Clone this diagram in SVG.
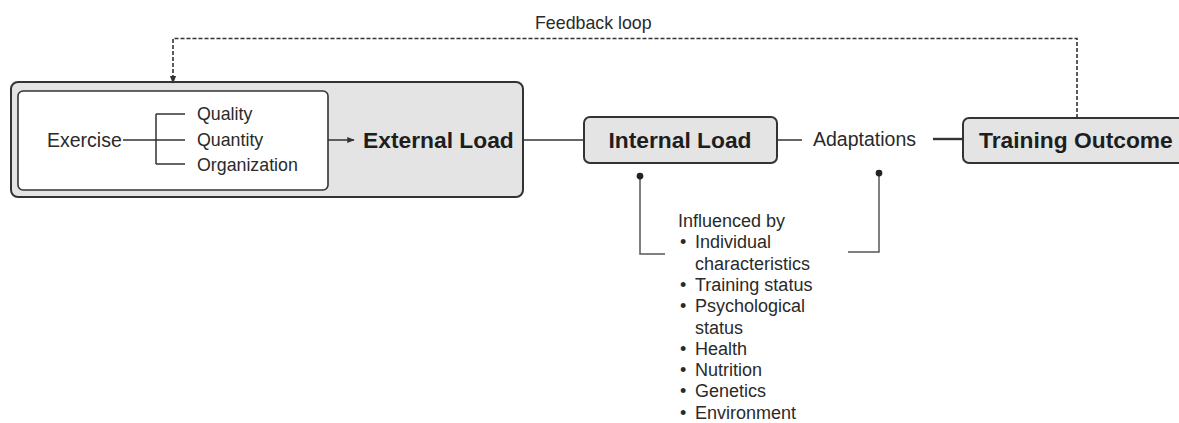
<svg xmlns="http://www.w3.org/2000/svg" width="1179" height="423" viewBox="0 0 1179 423">
  <style>
    .box { fill: #e4e4e4; stroke: #333; stroke-width: 2; }
    .inner { fill: #fff; stroke: #333; stroke-width: 1.6; }
    .t { font-family: "Liberation Sans", Arial, sans-serif; fill: #2a2a2a; }
    .reg { font-size: 19.5px; }
    .sm { font-size: 17.8px; }
    .lst { font-size: 18px; }
    .bold { font-size: 22.8px; font-weight: bold; fill: #1e1e1e; }
    .ln { fill: none; stroke: #333; stroke-width: 1.5; }
    .thick { fill: none; stroke: #333; stroke-width: 2.4; }
    .dash { fill: none; stroke: #333; stroke-width: 1.6; stroke-dasharray: 4 2; }
    .brk { fill: none; stroke: #555; stroke-width: 1.5; }
  </style>
  <defs>
    <marker id="arrow" viewBox="0 0 10 10" refX="9" refY="5" markerWidth="5" markerHeight="5" orient="auto" markerUnits="strokeWidth">
      <path d="M0,1 L10,5 L0,9 z" fill="#333"/>
    </marker>
    <marker id="dot" viewBox="0 0 10 10" refX="5" refY="5" markerWidth="5" markerHeight="5" markerUnits="strokeWidth">
      <circle cx="5" cy="5" r="4.5" fill="#222"/>
    </marker>
  </defs>

  <!-- Exercise / External Load block -->
  <g id="external-load">
    <rect class="box" x="11" y="82" width="512" height="115" rx="7"/>
    <rect class="inner" x="18" y="91" width="310" height="99" rx="5"/>
    <text class="t reg" x="47" y="147">Exercise</text>
    <path class="ln" d="M123,140 H156 M156,114 V164 M156,114 H185 M156,140 H185 M156,164 H185"/>
    <text class="t sm" x="197" y="120">Quality</text>
    <text class="t sm" x="197" y="146">Quantity</text>
    <text class="t sm" x="197" y="171">Organization</text>
    <line class="ln" x1="328" y1="140" x2="354" y2="140" marker-end="url(#arrow)"/>
    <text class="t bold" x="363" y="148">External Load</text>
  </g>

  <g id="internal-load">
    <rect class="box" x="584" y="117" width="193" height="46" rx="6"/>
    <text class="t bold" x="680" y="148" text-anchor="middle">Internal Load</text>
  </g>

  <g id="adaptations">
    <text class="t reg" x="813" y="146">Adaptations</text>
  </g>

  <g id="training-outcome">
    <rect class="box" x="963" y="118" width="230" height="45" rx="6"/>
    <text class="t bold" x="979" y="148">Training Outcome</text>
  </g>

  <g id="feedback-label">
    <text class="t sm" x="535" y="29">Feedback loop</text>
  </g>

  <g id="influences">
    <text class="t lst" x="678" y="227">Influenced by</text>
    <g class="t lst">
      <text x="680" y="248.3">•</text><text x="695" y="248.3">Individual</text>
      <text x="695" y="269.6">characteristics</text>
      <text x="680" y="290.9">•</text><text x="695" y="290.9">Training status</text>
      <text x="680" y="312.2">•</text><text x="695" y="312.2">Psychological</text>
      <text x="695" y="333.5">status</text>
      <text x="680" y="354.8">•</text><text x="695" y="354.8">Health</text>
      <text x="680" y="376.1">•</text><text x="695" y="376.1">Nutrition</text>
      <text x="680" y="397.4">•</text><text x="695" y="397.4">Genetics</text>
      <text x="680" y="418.7">•</text><text x="695" y="418.7">Environment</text>
    </g>
  </g>

  <!-- connectors -->
  <g id="connectors">
    <line class="ln" x1="523" y1="140" x2="584" y2="140"/>
    <line class="ln" x1="777" y1="140" x2="802" y2="140"/>
    <line class="thick" x1="933" y1="139" x2="963" y2="139"/>
    <path class="dash" d="M1077,118 V38.5 H173 V83" marker-end="url(#arrow)"/>
    <path class="brk" d="M640,176 V254 H665" marker-start="url(#dot)"/>
    <path class="brk" d="M879,173 V252 H848" marker-start="url(#dot)"/>
  </g>
</svg>
